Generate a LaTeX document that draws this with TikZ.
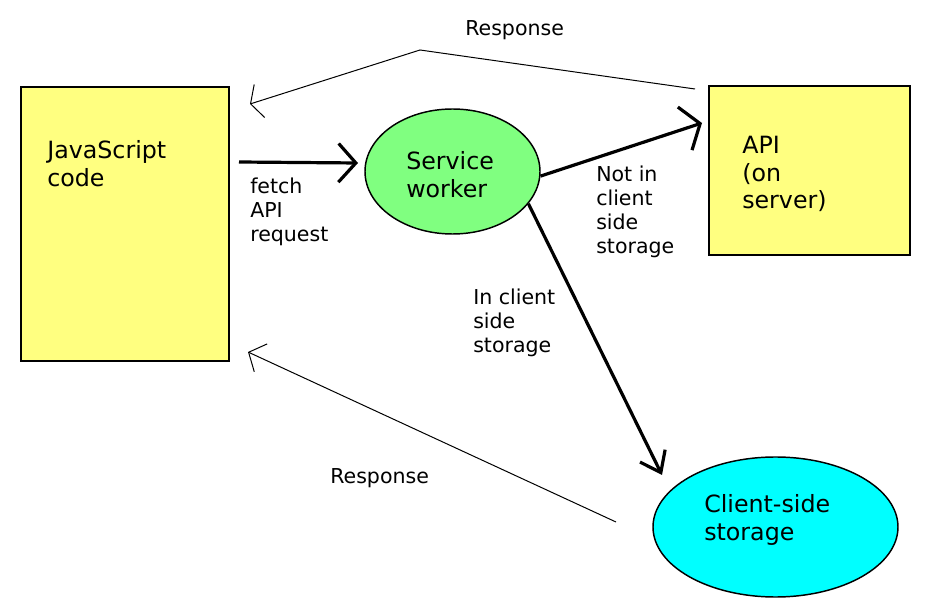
\documentclass[tikz,border=0pt]{standalone}
\usepackage{fontspec}
\setmainfont{DejaVu Sans}
\usetikzlibrary{arrows.meta,shapes.geometric}
\definecolor{boxyellow}{RGB}{255,255,128}
\definecolor{swgreen}{RGB}{128,255,128}
\definecolor{storecyan}{RGB}{0,255,255}
\tikzset{
  bigtxt/.style={font=\fontsize{17.8}{20.3}\selectfont, inner sep=0pt, anchor=base west},
  smalltxt/.style={font=\fontsize{15.4}{18}\selectfont, inner sep=0pt, anchor=base west},
  box/.style={draw, line width=1.5pt, fill=boxyellow, rectangle, inner sep=0pt},
  oval/.style={draw, line width=1.1pt, ellipse, inner sep=0pt},
  flow/.style={line width=2.4pt},
  reply/.style={line width=0.75pt},
}
\newcommand{\lines}[1]{\begin{tabular}[t]{@{}l@{}}#1\end{tabular}}
\begin{document}
\begin{tikzpicture}[x=0.75pt, y=-0.75pt]
  \useasboundingbox[fill=white] (0,0) rectangle (926,602);

  % nodes
  \node[box, minimum width=156pt, minimum height=205.5pt] (js) at (125,224) {};
  \node[box, minimum width=150.75pt, minimum height=126.75pt] (api) at (809.5,170.5) {};
  \node[oval, fill=swgreen, minimum width=131.25pt, minimum height=93.75pt] (sw) at (452.5,171.5) {};
  \node[oval, fill=storecyan, minimum width=183.75pt, minimum height=105pt] (cs) at (775.5,527) {};

  % node texts
  \node[bigtxt] (jstext) at (47,159) {\lines{JavaScript\\code}};
  \node[bigtxt] (apitext) at (742,154) {\lines{API\\(on\\server)}};
  \node[bigtxt] (swtext) at (406,170) {\lines{Service\\worker}};
  \node[bigtxt] (cstext) at (704,513) {\lines{Client-side\\storage}};

  % connector labels
  \node[smalltxt] (fetchlbl) at (250,194) {\lines{fetch\\API\\request}};
  \node[smalltxt] (notinlbl) at (596,181.7) {\lines{Not in\\client\\side\\storage}};
  \node[smalltxt] (inlbl) at (473,305) {\lines{In client\\side\\storage}};
  \node[smalltxt] (resp1) at (465,36) {Response};
  \node[smalltxt] (resp2) at (330,484) {Response};

  % free ends
  \coordinate (fs) at (239,162);
  \coordinate (fe) at (358,163);
  \coordinate (ae) at (702,123);
  \coordinate (ce) at (662,475);
  \coordinate (r1s) at (695,89);
  \coordinate (r1m) at (420,50);
  \coordinate (r1e) at (250,104);
  \coordinate (r2s) at (616,522);
  \coordinate (r2e) at (248,352);

  % connectors
  \draw[flow, -{Straight Barb[length=13pt,width=29pt]}] (fs) -- (fe);
  \draw[flow, -{Straight Barb[length=12pt,width=34pt]}] (sw.-3) -- (ae);
  \draw[flow, -{Straight Barb[length=14pt,width=21pt]}] (sw.-23) -- (ce);
  \draw[reply, -{Straight Barb[length=7pt,width=26pt]}] (r1s) -- (r1m) -- (r1e);
  \draw[reply, -{Straight Barb[length=10pt,width=23pt]}] (r2s) -- (r2e);
\end{tikzpicture}
\end{document}
